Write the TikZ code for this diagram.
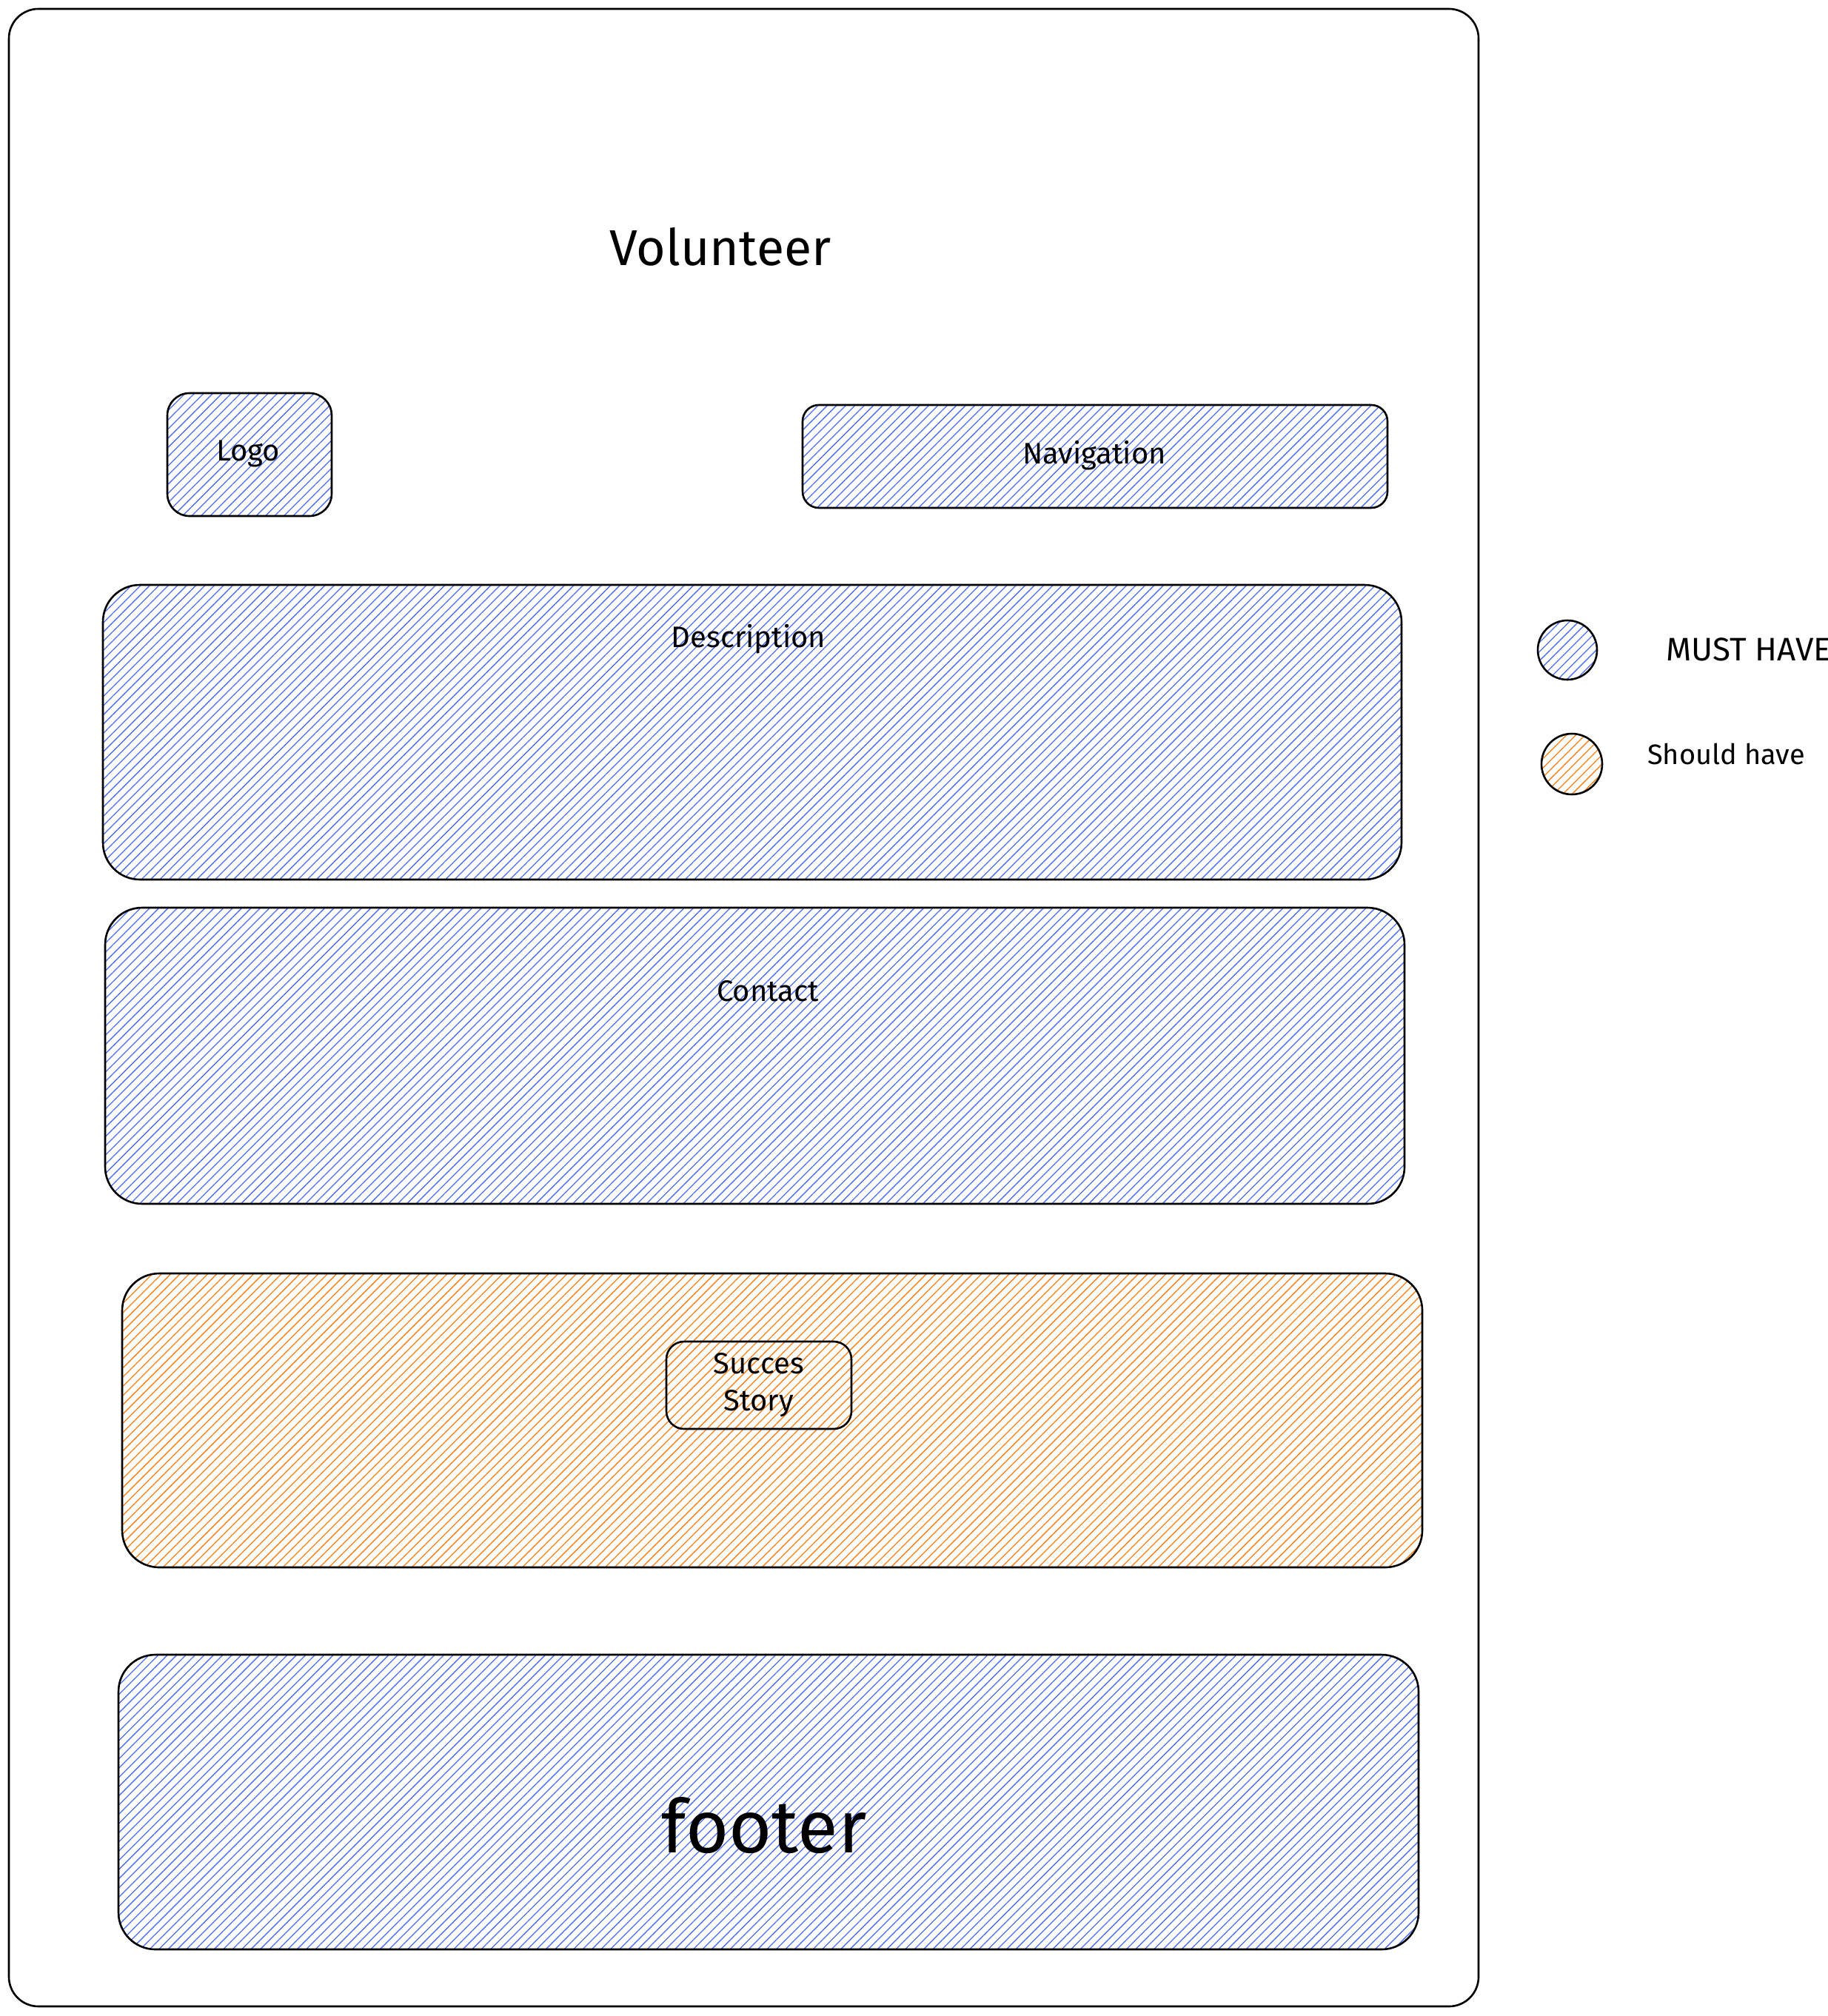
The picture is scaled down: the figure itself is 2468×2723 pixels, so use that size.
\documentclass[tikz,border=0pt]{standalone}
\usepackage{fontspec}
\setmainfont{Fira Sans}
\usetikzlibrary{patterns.meta,fit}
\definecolor{mustblue}{HTML}{4C6EF5}
\definecolor{shouldorange}{HTML}{FD7E14}
\tikzset{
  sketch/.style={draw=black, line width=1.3pt},
  mustfill/.style={pattern={Lines[angle=45,distance=4.4pt,line width=0.65pt]}, pattern color=mustblue},
  shouldfill/.style={pattern={Lines[angle=45,distance=4.4pt,line width=0.65pt]}, pattern color=shouldorange},
  region/.style={sketch, inner sep=0pt, rounded corners=#1},
  region/.default=25pt,
  lbl/.style={font=\fontsize{20}{24}\selectfont, text=black},
}
\begin{document}
\begin{tikzpicture}[x=0.5pt,y=-0.5pt]
\useasboundingbox (0,0) rectangle (2468,2723);
% page frame
\node[region=20pt, fit={(12,12)(1997,2710)}] (frame) {};
\node[font=\fontsize{34}{40}\selectfont] (title) at (973,333) {Volunteer};
% logo
\node[region=15pt, mustfill, fit={(226,531)(448,697)}] (logo) {};
\node[lbl] (logolbl) at (335,613) {Logo};
% navigation
\node[region=11pt, mustfill, fit={(1084,547)(1874,686)}] (nav) {};
\node[lbl] (navlbl) at (1478,615) {Navigation};
% description
\node[region=25pt, mustfill, fit={(139,790)(1893,1188)}] (desc) {};
\node[lbl] (desclbl) at (1011,863) {Description};
% contact
\node[region=25pt, mustfill, fit={(142,1226)(1897,1626)}] (contact) {};
\node[lbl] (contactlbl) at (1037,1339) {Contact};
% success story
\node[region=25pt, shouldfill, fit={(165,1720)(1921,2117)}] (success) {};
\node[region=12pt, fit={(900,1812)(1150,1930)}] (story) {};
\node[lbl, align=center, font=\fontsize{20}{25}\selectfont] (storylbl) at (1025,1871) {Succes\\Story};
% footer
\node[region=25pt, mustfill, fit={(160,2235)(1916,2633)}] (footer) {};
\node[font=\fontsize{50}{60}\selectfont] (footerlbl) at (1032,2466) {footer};
% legend
\node[sketch, mustfill, circle, minimum size=40pt, inner sep=0pt] (legmust) at (2117,878) {};
\node[lbl, anchor=west, font=\fontsize{22}{26}\selectfont] (legmustlbl) at (2243,877) {MUST HAVE};
\node[sketch, shouldfill, circle, minimum size=41pt, inner sep=0pt] (legshould) at (2123,1032) {};
\node[lbl, anchor=west, font=\fontsize{19}{23}\selectfont] (legshouldlbl) at (2218,1018) {Should have};
\end{tikzpicture}
\end{document}
